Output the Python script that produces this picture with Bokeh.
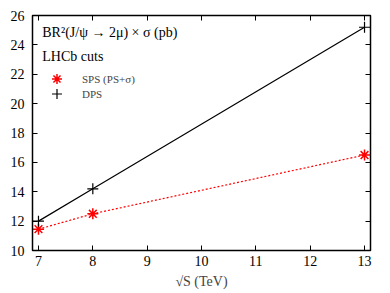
from bokeh.plotting import figure
from bokeh.models import Label, Legend, LegendItem, LinearAxis, Range1d, FixedTicker
from bokeh.embed import file_html
from bokeh.resources import INLINE

energies = [7, 8, 13]
sps_vals = [11.45, 12.5, 16.5]
dps_vals = [12.0, 14.2, 25.2]
x_ticks = [7, 8, 9, 10, 11, 12, 13]
y_ticks = [10, 12, 14, 16, 18, 20, 22, 24, 26]

FONT = "'Liberation Serif', 'DejaVu Serif', serif"

p = figure(width=390, height=293, output_backend="svg", toolbar_location=None,
           x_range=Range1d(6.89, 13.11), y_range=Range1d(10, 26),
           min_border_left=32, min_border_right=20, min_border_top=15, min_border_bottom=43,
           x_axis_label="√S (TeV)")
p.grid.visible = False
p.outline_line_color = "black"
p.outline_line_width = 1.5
p.background_fill_color = "white"
p.border_fill_color = "white"

for ax in p.xaxis:
    ax.ticker = FixedTicker(ticks=x_ticks)
for ax in p.yaxis:
    ax.ticker = FixedTicker(ticks=y_ticks)

for ax in list(p.xaxis) + list(p.yaxis):
    ax.axis_line_color = None
    ax.major_tick_in = 5
    ax.major_tick_out = 0
    ax.minor_tick_line_color = None
    ax.major_label_text_font = FONT
    ax.major_label_text_font_size = "14px"
    ax.major_label_text_color = "black"
    ax.axis_label_text_font = FONT
    ax.axis_label_text_font_size = "14px"
    ax.axis_label_text_font_style = "normal"
    ax.major_tick_line_color = "black"
p.xaxis.major_label_standoff = 5
p.yaxis.major_label_standoff = 8
p.xaxis.axis_label_standoff = 5

top_ax = LinearAxis(ticker=FixedTicker(ticks=x_ticks), axis_line_color=None,
                    major_tick_in=5, major_tick_out=0, minor_tick_line_color=None,
                    major_label_overrides={t: "" for t in x_ticks}, major_label_standoff=0)
right_ax = LinearAxis(ticker=FixedTicker(ticks=y_ticks), axis_line_color=None,
                      major_tick_in=5, major_tick_out=0, minor_tick_line_color=None,
                      major_label_overrides={t: "" for t in y_ticks}, major_label_standoff=0)
p.add_layout(top_ax, "above")
p.add_layout(right_ax, "right")

p.line(energies, dps_vals, line_color="black", line_width=1.2)
p.line(energies, sps_vals, line_color="red", line_width=1.2, line_dash="2 2")
r_sps = p.scatter(energies, sps_vals, marker="asterisk", size=11, line_color="red", line_width=1.5)
r_dps = p.scatter(energies, dps_vals, marker="cross", size=11, line_color="black", line_width=1.2)

legend_kw = dict(margin=0, padding=0, glyph_width=25, glyph_height=25, label_standoff=13,
                 label_text_font=FONT, label_text_font_size="11px",
                 border_line_color=None, background_fill_alpha=0)
leg1 = Legend(items=[LegendItem(label="SPS (PS+σ)", renderers=[r_sps])],
              location=(12, 159), **legend_kw)
leg2 = Legend(items=[LegendItem(label="DPS", renderers=[r_dps])],
              location=(12, 144), **legend_kw)
p.add_layout(leg1, "center")
p.add_layout(leg2, "center")

p.add_layout(Label(x=7.07, y=25.32, text="BR²(J/ψ → 2μ) × σ (pb)", text_font=FONT,
                   text_font_size="14px", text_baseline="top", text_color="black"))
p.add_layout(Label(x=7.07, y=23.75, text="LHCb cuts", text_font=FONT,
                   text_font_size="14px", text_baseline="top", text_color="black"))

open("out.html", "w").write(file_html(p, INLINE))
